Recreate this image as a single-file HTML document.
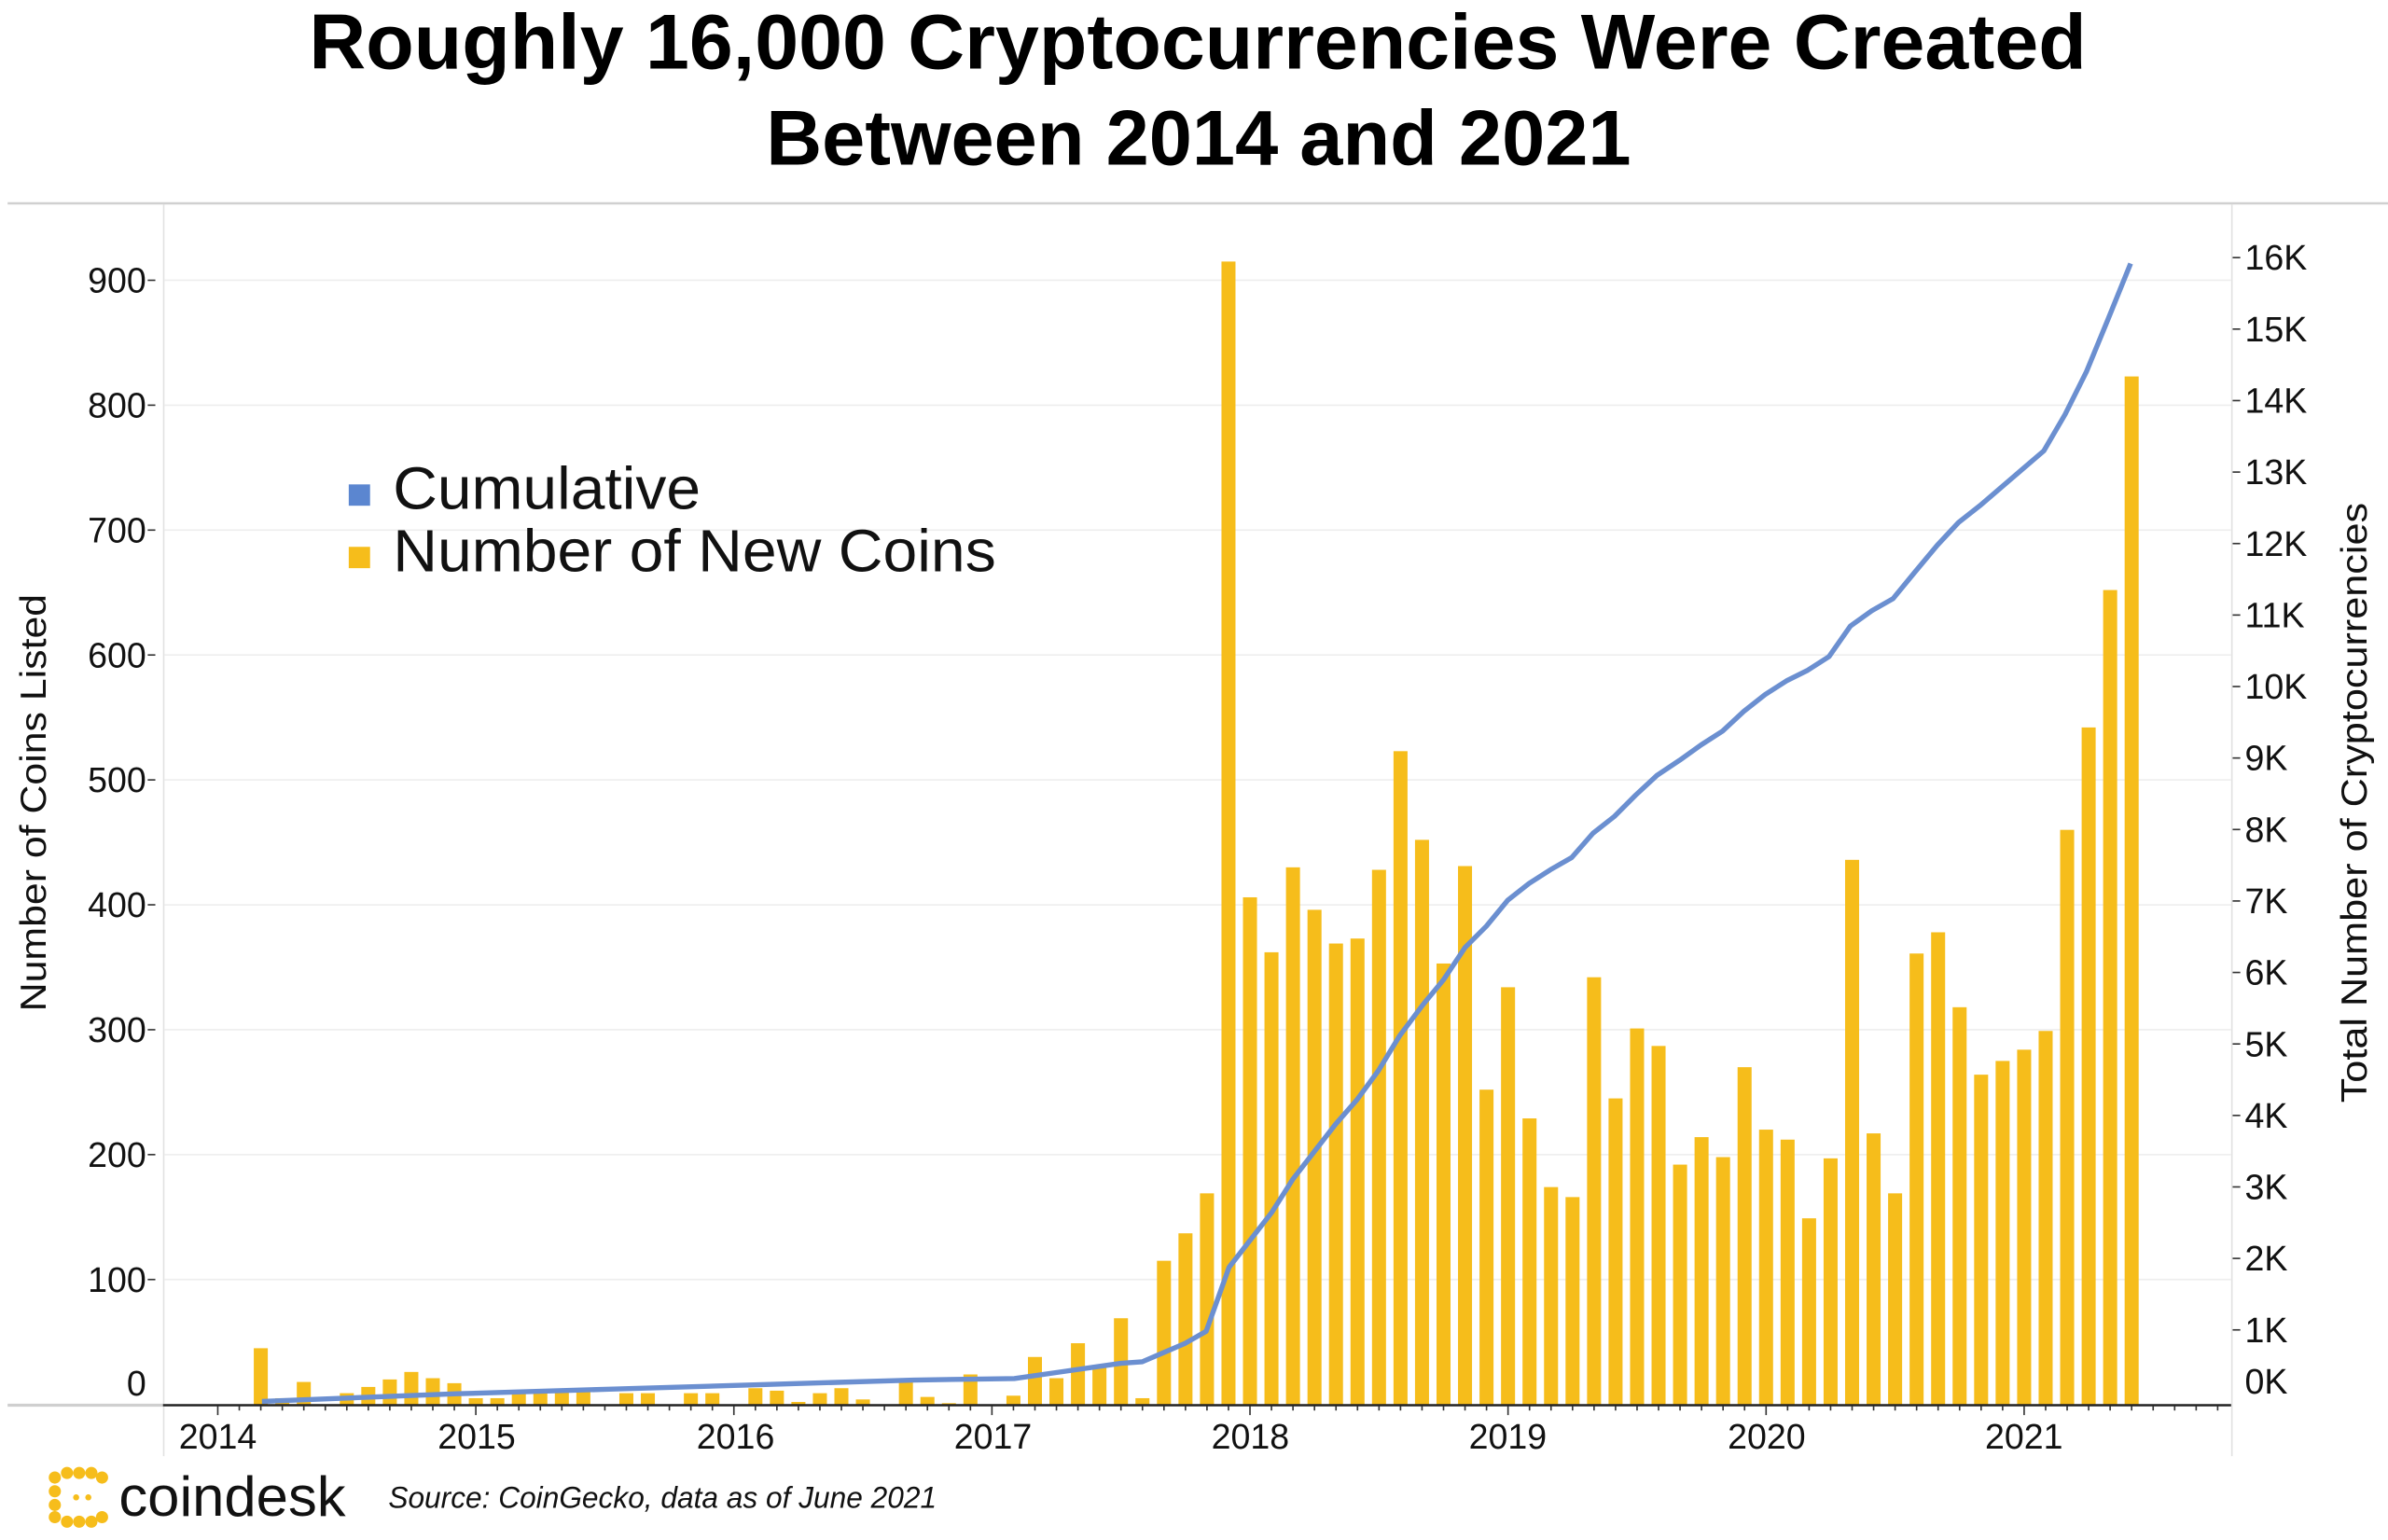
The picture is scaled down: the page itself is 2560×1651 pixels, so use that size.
<!DOCTYPE html>
<html><head><meta charset="utf-8"><style>
html,body{margin:0;padding:0;background:#fff;}
svg{display:block;}
text{font-family:"Liberation Sans",sans-serif;}
</style></head><body>
<svg id="c" width="2560" height="1651" viewBox="0 0 1568 1011" preserveAspectRatio="none" xmlns="http://www.w3.org/2000/svg">
<rect width="1568" height="1011" fill="#fff"/>
<text x="203" y="45" font-size="51" font-weight="bold" fill="#000" textLength="1167" lengthAdjust="spacingAndGlyphs">Roughly 16,000 Cryptocurrencies Were Created</text>
<text x="503" y="108" font-size="51" font-weight="bold" fill="#000" textLength="568" lengthAdjust="spacingAndGlyphs">Between 2014 and 2021</text>
<line x1="5" y1="133.5" x2="1568" y2="133.5" stroke="#d0d0d0" stroke-width="1.5"/>
<line x1="107.5" y1="134" x2="107.5" y2="956" stroke="#e2e2e2" stroke-width="1"/>
<line x1="1465.5" y1="134" x2="1465.5" y2="956" stroke="#e2e2e2" stroke-width="1"/>
<g id="grid" stroke="#eeeeee" stroke-width="1"></g>
<g id="ylab" font-size="23" fill="#111" text-anchor="end"></g>
<g id="rlab" font-size="23" fill="#111"></g>
<g id="bars" fill="#f6bd1b"></g>
<polyline id="cum" fill="none" stroke="#6b8fd0" stroke-width="3.3" stroke-linejoin="round"/>
<line x1="5" y1="922.5" x2="107" y2="922.5" stroke="#cfcfcf" stroke-width="2"/>
<line x1="107" y1="922.5" x2="1465" y2="922.5" stroke="#222" stroke-width="1.5"/>
<g id="mt" stroke="#333" stroke-width="1"></g>
<g font-size="23" fill="#111" text-anchor="middle">
<text x="143" y="951">2014</text><text x="313" y="951">2015</text><text x="483" y="951">2016</text><text x="652" y="951">2017</text><text x="821" y="951">2018</text><text x="990" y="951">2019</text><text x="1160" y="951">2020</text><text x="1329" y="951">2021</text>
</g>
<text transform="translate(30,527) rotate(-90)" text-anchor="middle" font-size="24" fill="#111" textLength="274" lengthAdjust="spacingAndGlyphs">Number of Coins Listed</text>
<text transform="translate(1554,527) rotate(-90)" text-anchor="middle" font-size="24" fill="#111" textLength="394" lengthAdjust="spacingAndGlyphs">Total Number of Cryptocurrencies</text>
<rect x="229" y="318" width="14" height="14" fill="#5b86d0"/>
<rect x="229" y="359" width="14" height="14" fill="#f6bd1b"/>
<text x="258" y="334" font-size="39" fill="#111" textLength="202" lengthAdjust="spacingAndGlyphs">Cumulative</text>
<text x="258" y="375" font-size="39" fill="#111" textLength="396" lengthAdjust="spacingAndGlyphs">Number of New Coins</text>
<g fill="#f6bd1b">
<circle cx="36" cy="970" r="4"/><circle cx="44" cy="967" r="4"/><circle cx="52" cy="967" r="4"/><circle cx="60" cy="967" r="4"/><circle cx="67" cy="970" r="4"/>
<circle cx="36" cy="979" r="4"/><circle cx="36" cy="988" r="4"/><circle cx="36" cy="996" r="4"/>
<circle cx="44" cy="999" r="4"/><circle cx="52" cy="999" r="4"/><circle cx="60" cy="999" r="4"/><circle cx="67" cy="996" r="4"/>
<circle cx="50" cy="983" r="2"/><circle cx="58" cy="983" r="2"/>
</g>
<text x="78" y="995" font-size="37" fill="#111" textLength="149" lengthAdjust="spacingAndGlyphs">coindesk</text>
<text x="255" y="990" font-size="20" font-style="italic" fill="#111" textLength="360" lengthAdjust="spacingAndGlyphs">Source: CoinGecko, data as of June 2021</text>
</svg>
<script>
var NS="http://www.w3.org/2000/svg";
function el(p,t,a,txt){var e=document.createElementNS(NS,t);for(var k in a)e.setAttribute(k,a[k]);if(txt!=null)e.textContent=txt;document.getElementById(p).appendChild(e);}
var y0=922,u=0.82;
for(var v=100;v<=900;v+=100){var y=y0-v*u;el("grid","line",{x1:108,x2:1465,y1:y,y2:y});}
for(var v=0;v<=900;v+=100){var y=y0-v*u;var yy=v==0?908:y;el("ylab","text",{x:96,y:yy+8},String(v));if(v>0)el("grid","line",{x1:97,x2:102,y1:y,y2:y,stroke:"#333"});}
for(var k=0;k<=16;k++){var y=920-k*46.93;var yy=k==0?907:y;el("rlab","text",{x:1474,y:yy+8},k+"K");if(k>0)el("grid","line",{x1:1466,x2:1471,y1:y,y2:y,stroke:"#333"});}
var vals=[45,5,18,0,9,14,20,26,21,17,5,5,10,10,11,12,0,9,9,0,9,9,0,13,11,2,9,13,4,0,20,6,1,24,0,7,38,21,49,30,69,5,
115,137,169,915,406,362,430,396,369,373,428,523,452,353,431,252,334,229,174,166,342,245,301,287,192,214,198,270,220,212,149,197,436,217,169,361,378,318,264,275,284,299,460,542,652,823];
for(var k=0;k<vals.length;k++){var x=143+(k+2)*14.12;if(vals[k]>0)el("bars","rect",{x:x-4.6,y:y0-vals[k]*u,width:9.2,height:vals[k]*u});}
for(var i=0;i<=95;i++){var x=143+i*14.12;if(x<1462)el("mt","line",{x1:x,x2:x,y1:923,y2:i%12==0?929:926});}
var pts=[[172,920],[300,915],[400,912],[500,909],[600,906],[666,905],[694,901],[722,897],[736,895],[750,894],[764,888],[778,882],[792,874],[807,832],[821,814],[835,796],[849,774],[863,756],[877,738],[891,722],[905,703],[919,680],[934,660],[948,643],[962,622],[976,608],[990,591],[1004,580],[1018,571],[1032,563],[1046,547],[1060,536],[1074,522],[1088,509],[1103,499],[1117,489],[1131,480],[1145,467],[1159,456],[1173,447],[1187,440],[1201,431],[1215,411],[1229,401],[1243,393],[1257,376],[1272,358],[1286,343],[1300,332],[1314,320],[1328,308],[1342,296],[1356,272],[1370,244],[1384,210],[1399,173]];
document.getElementById("cum").setAttribute("points",pts.map(function(p){return p.join(",")}).join(" "));
</script>
</body></html>
